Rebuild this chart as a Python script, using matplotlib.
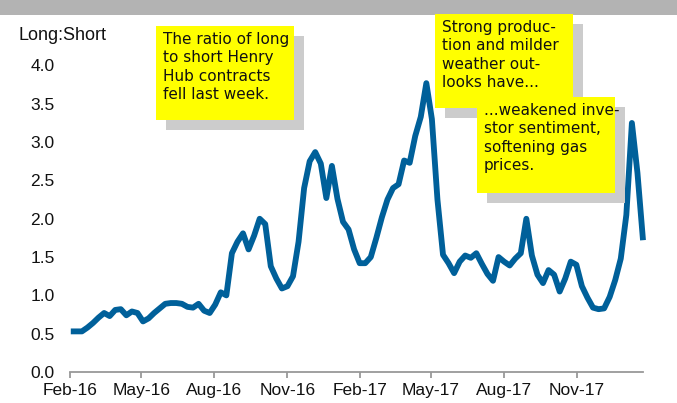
import matplotlib
matplotlib.use("Agg")
import matplotlib.pyplot as plt
from matplotlib.patches import Rectangle
import pandas as pd

W, H = 677, 403

# weekly long:short ratio of Henry Hub positions
start_date = "2016-02-02"
ratio = [
    0.53, 0.53, 0.53, 0.58, 0.64, 0.71, 0.77, 0.73, 0.81, 0.82,
    0.74, 0.79, 0.77, 0.66, 0.70, 0.77, 0.83, 0.89, 0.90, 0.90,
    0.89, 0.85, 0.84, 0.89, 0.80, 0.77, 0.88, 1.04, 1.00, 1.55,
    1.70, 1.81, 1.60, 1.78, 2.00, 1.93, 1.38, 1.22, 1.09, 1.12,
    1.25, 1.70, 2.40, 2.75, 2.87, 2.72, 2.27, 2.69, 2.26, 1.96,
    1.86, 1.60, 1.42, 1.42, 1.50, 1.75, 2.02, 2.25, 2.40, 2.45,
    2.76, 2.73, 3.08, 3.33, 3.77, 3.30, 2.25, 1.53, 1.42, 1.29,
    1.44, 1.52, 1.49, 1.55, 1.41, 1.28, 1.19, 1.50, 1.44, 1.39,
    1.48, 1.55, 2.00, 1.52, 1.27, 1.16, 1.33, 1.27, 1.05, 1.22,
    1.44, 1.40, 1.12, 0.97, 0.84, 0.82, 0.83, 0.98, 1.20, 1.48,
    2.05, 3.25, 2.60, 1.72,
]
tick_dates = ["2016-02-01", "2016-05-01", "2016-08-01", "2016-11-01",
              "2017-02-01", "2017-05-01", "2017-08-01", "2017-11-01"]
tick_labels = ["Feb-16", "May-16", "Aug-16", "Nov-16",
               "Feb-17", "May-17", "Aug-17", "Nov-17"]
y_ticks = [0.0, 0.5, 1.0, 1.5, 2.0, 2.5, 3.0, 3.5, 4.0]

notes = [
    "The ratio of long\nto short Henry\nHub contracts\nfell last week.",
    "Strong produc-\ntion and milder\nweather out-\nlooks have...",
    "...weakened inve-\nstor sentiment,\nsoftening gas\nprices.",
]
# box corners in pixels (left, top, right, bottom)
note_boxes = [(156, 26, 294, 120), (435, 14, 573, 108), (477, 97, 615, 193)]


def add_note(fig, box, text):
    x0, y0, x1, y1 = box
    # grey drop shadow, then the yellow box
    fig.add_artist(Rectangle(((x0 + 10) / W, 1 - (y1 + 10) / H), (x1 - x0) / W, (y1 - y0) / H,
                             transform=fig.transFigure, facecolor="#cccccc",
                             edgecolor="none", zorder=5))
    fig.add_artist(Rectangle((x0 / W, 1 - y1 / H), (x1 - x0) / W, (y1 - y0) / H,
                             transform=fig.transFigure, facecolor="#ffff00",
                             edgecolor="none", zorder=6))
    fig.text((x0 + 7) / W, 1 - (y0 + 6) / H, text, ha="left", va="top",
             fontsize=11, family="DejaVu Sans", color="#111111",
             linespacing=1.28, zorder=7)


fig = plt.figure(figsize=(W / 100, H / 100), dpi=100)
plt.rcParams["font.family"] = ["Liberation Sans", "DejaVu Sans"]

# grey title strip at the top
fig.add_artist(Rectangle((0, 1 - 15 / H), 1, 15 / H, transform=fig.transFigure,
                         facecolor="#b3b3b3", edgecolor="none", zorder=1))

ax = fig.add_axes([70 / W, (H - 372) / H, 573 / W, (372 - 65.5) / H])
dates = pd.date_range(start_date, periods=len(ratio), freq="7D")
ax.plot(dates, ratio, color="#00609a", lw=4.2, solid_joinstyle="round",
        solid_capstyle="butt", clip_on=False)

ax.set_ylim(0, 4.0)
ax.set_xlim(pd.Timestamp("2016-02-01"), pd.Timestamp("2018-01-23"))
ax.set_yticks(y_ticks)
ax.set_yticklabels([f"{v:.1f}" for v in y_ticks])
ax.set_xticks(pd.to_datetime(tick_dates))
ax.set_xticklabels(tick_labels)

for side in ["left", "right", "top"]:
    ax.spines[side].set_visible(False)
ax.spines["bottom"].set_color("#999999")
ax.spines["bottom"].set_linewidth(1.3)
ax.tick_params(axis="y", length=0, pad=11, labelsize=12.5, labelcolor="#111111")
ax.tick_params(axis="x", direction="out", length=4, width=1.3, color="#999999",
               pad=4, labelsize=12.5, labelcolor="#111111")

fig.text(19 / W, 1 - 35 / H, "Long:Short", ha="left", va="center",
         fontsize=13, color="#111111")

for box, text in zip(note_boxes, notes):
    add_note(fig, box, text)

fig.savefig("out.png", dpi=100)
